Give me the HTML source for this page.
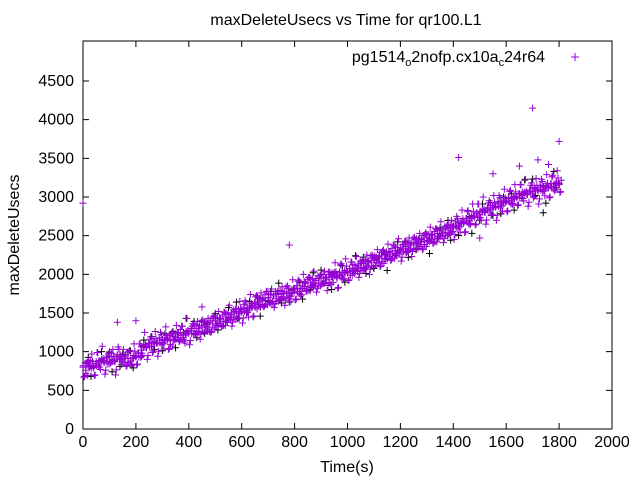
<!DOCTYPE html>
<html><head><meta charset="utf-8"><style>
body{margin:0;background:#fff}
svg text{font-family:"Liberation Sans",sans-serif;font-size:16px;fill:#000}
</style></head><body>
<svg id="chart" width="640" height="480" xmlns="http://www.w3.org/2000/svg">
<text x="346" y="25" text-anchor="middle">maxDeleteUsecs vs Time for qr100.L1</text>
<text transform="translate(19,235) rotate(-90)" text-anchor="middle">maxDeleteUsecs</text>
<text x="347" y="472" text-anchor="middle">Time(s)</text>
<g id="axes"></g>
<g id="marks"></g>
<g>
<text x="545" y="62" text-anchor="end">pg1514<tspan font-size="11" dy="4">o</tspan><tspan dy="-4">2nofp.cx10a</tspan><tspan font-size="11" dy="4">c</tspan><tspan dy="-4">24r64</tspan></text>
<path d="M571 57h8M575 53v8" stroke="#9400d3" stroke-width="1"/>
</g>
</svg>
<script>
const xTicks=[0,200,400,600,800,1000,1200,1400,1600,1800,2000];
const yTicks=[0,500,1000,1500,2000,2500,3000,3500,4000,4500];
const purpleStart=0, purpleStep=10;
const purpleValues=[800,760,850,820,790,870,840,900,860,880,930,900,870,960,920,890,940,910,880,950,930,
980,1020,1080,1050,1100,1070,1130,1110,1150,1120,1180,1160,1140,1200,1190,1230,1210,1180,1260,1240,
1270,1300,1260,1330,1310,1350,1290,1380,1360,1400,1370,1420,1390,1450,1430,1480,1460,1500,1520,1540,
1560,1530,1600,1580,1620,1650,1610,1680,1660,1700,1640,1720,1690,1740,1710,1770,1750,1730,1790,1800,
1820,1780,1850,1880,1840,1900,1870,1920,1890,1950,1910,1960,1930,1980,2010,1950,2030,1990,2050,2020,
2040,2080,2060,2110,2090,2140,2120,2170,2150,2200,2180,2230,2210,2250,2240,2280,2260,2310,2290,2320,
2330,2360,2340,2400,2380,2420,2390,2450,2430,2480,2460,2500,2470,2530,2510,2560,2540,2590,2570,2620,
2650,2630,2690,2670,2720,2700,2760,2740,2790,2770,2830,2800,2860,2840,2890,2870,2920,2900,2960,2940,
2980,2960,3010,2990,3040,3020,3060,3030,3090,3070,3110,3080,3130,3100,3150,3120,3170,3140,3190,3160];
const spreadValues=[-130,90,-60,150,-100,120,-40,170,-150,60,-80,130,-170,100,-20,140];
const blackTimes=[20,60,100,140,180,220,260,300,340,380,420,460,500,540,580,620,660,700,740,780,820,860,900,940,980,1020,1060,1100,1140,1180,1220,1260,1300,1340,1380,1420,1460,1500,1540,1580,1620,1660,1700,1740,1780];
const blackValues=[830,900,860,930,960,1000,1090,1150,1180,1260,1280,1340,1420,1440,1520,1590,1610,1680,1750,1760,1850,1870,1950,1940,2030,2070,2110,2180,2190,2290,2310,2400,2420,2500,2560,2620,2700,2760,2820,2920,2960,3050,3120,2900,3260];
const outlierTimes=[0,130,200,450,780,1420,1500,1700,1800,1550,1650,1720,1760];
const outlierValues=[2920,1380,1400,1580,2380,3510,2470,4150,3720,3300,3400,3480,3420];
const X0=83,X1=612,Y0=429,Y1=41;
const xs=v=>X0+(v/2000)*(X1-X0);
const ys=v=>Y0-(v/4500)*(Y0-81);
const NS="http://www.w3.org/2000/svg";
const axes=document.getElementById('axes'),marks=document.getElementById('marks');
function mk(tag,attrs,parent){const e=document.createElementNS(NS,tag);for(const k in attrs)e.setAttribute(k,attrs[k]);parent.appendChild(e);return e;}
const frame=mk('rect',{x:X0,y:Y1,width:X1-X0,height:Y0-Y1,fill:'none',stroke:'#000','stroke-width':1},axes);


xTicks.forEach(t=>{const x=xs(t);
 const l=mk('path',{d:`M${x} ${Y0}v-6M${x} ${Y1}v6`,stroke:'#000'},axes);
 
 
 const tx=mk('text',{x:x,y:Y0+18,'text-anchor':'middle'},axes);tx.textContent=t;
 
 });
yTicks.forEach(t=>{const y=ys(t);
 const l=mk('path',{d:`M${X0} ${y}h6M${X1} ${y}h-6`,stroke:'#000'},axes);
 
 
 const tx=mk('text',{x:X0-9,y:y+5,'text-anchor':'end'},axes);tx.textContent=t;
 
 });
function plus(t,v,c){const x=xs(t),y=ys(v);
 const p=mk('path',{d:`M${x-3.5} ${y}h7M${x} ${y-3.5}v7`,stroke:c,'stroke-width':1},marks);
 
 }
blackValues.forEach((v,i)=>plus(blackTimes[i],v+spreadValues[(i+5)%16]*0.8,'#000'));
blackValues.forEach((v,i)=>plus(blackTimes[i]+10,v-spreadValues[(i+3)%16],'#000'));
purpleValues.forEach((v,i)=>{const t=purpleStart+i*purpleStep;
 plus(t,v,'#9400d3');
 plus(t+3,v+spreadValues[i%16],'#9400d3');
 plus(t+6,v-spreadValues[(i+7)%16]*0.7,'#9400d3');
 plus(t+8,v+spreadValues[(i+11)%16]*0.4,'#9400d3');
 plus(t+1,v-spreadValues[(i+2)%16]*0.3,'#9400d3');});
outlierValues.forEach((v,i)=>plus(outlierTimes[i],v,'#9400d3'));
</script>
</body></html>
